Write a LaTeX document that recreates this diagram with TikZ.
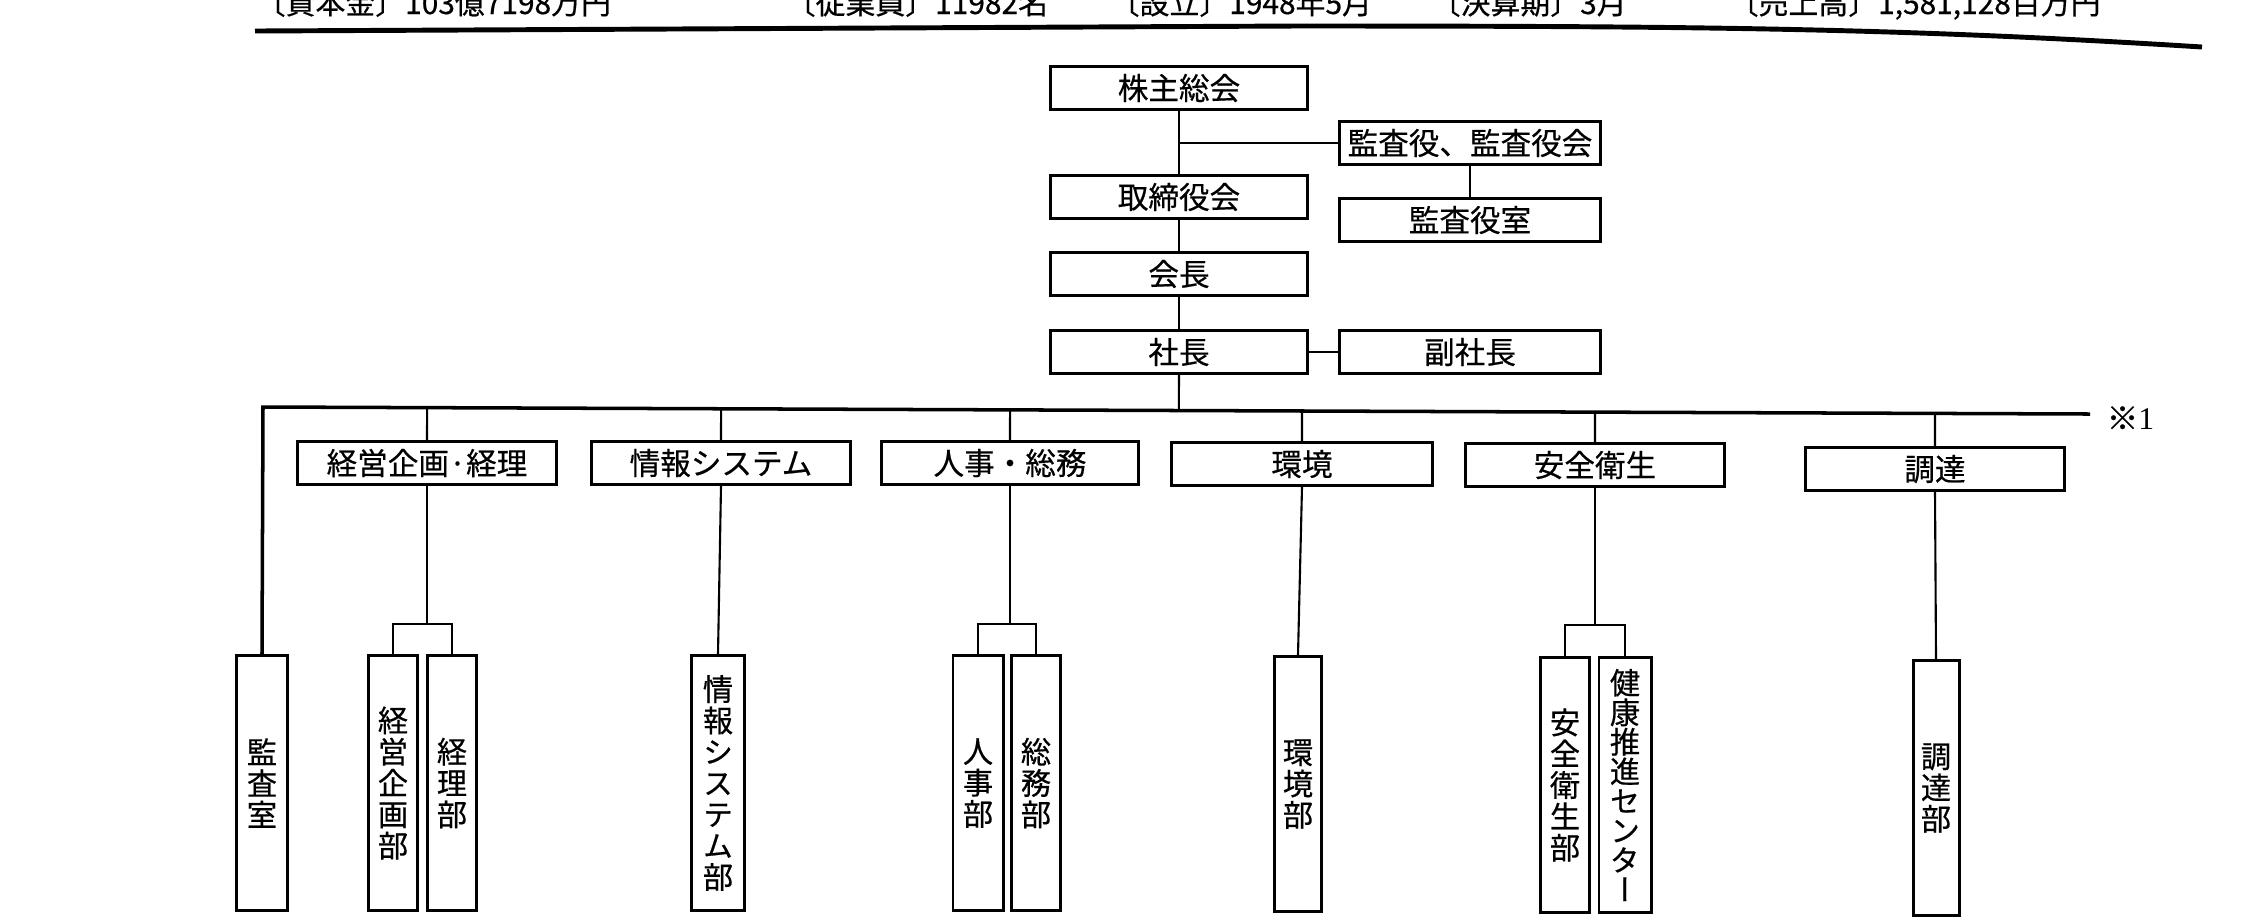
\documentclass[tikz,border=0pt]{standalone}
\usepackage{fontspec}
\setmainfont{Liberation Serif}
\newfontfamily\jp[FakeBold=0.5]{Noto Sans CJK JP}
\newfontfamily\vjp[RawFeature=+vert,FakeBold=0.5]{Noto Sans CJK JP}
\usetikzlibrary{calc}
\tikzset{
  hbox/.style={draw, line width=0.85pt, inner sep=0pt, minimum height=0.43cm,
    minimum width=2.57cm, font=\jp\fontsize{8.7pt}{9pt}\selectfont},
  vbox/.style={draw, line width=0.85pt, inner sep=0pt, minimum width=0.5cm,
    minimum height=2.55cm, align=center, font=\vjp\fontsize{8.6pt}{8.9pt}\selectfont},
  link/.style={line width=0.6pt},
  busline/.style={line width=1pt},
  rule/.style={line width=1.4pt},
  header/.style={inner sep=0pt, anchor=base west, font=\jp\fontsize{8.5pt}{9pt}\selectfont},
}
\begin{document}
\begin{tikzpicture}[x=0.01cm,y=-0.01cm]
\useasboundingbox (0,0) rectangle (2257,920);
\clip (0,0) rectangle (2257,920);

% company data line and rule
\node[header] (cap) at (255,14) {〔資本金〕103億7198万円};
\node[header] (emp) at (785,14) {〔従業員〕11982名};
\node[header] (est) at (1109,14) {〔設立〕1948年5月};
\node[header] (fy)  at (1430,14) {〔決算期〕3月};
\node[header] (rev) at (1728,14) {〔売上高〕1,581,128百万円};
\coordinate (r0) at (255,31);
\coordinate (r1) at (1296,26);
\coordinate (r2) at (2202,47);
\draw[rule] (r0) -- (r1) .. controls (1700,26) and (1900,28) .. (r2);

% top management
\node[hbox] (kabu)  at (1179,88)  {株主総会};
\node[hbox, minimum width=2.61cm] (kansa) at (1470,143) {監査役、監査役会};
\node[hbox] (tori)  at (1179,197) {取締役会};
\node[hbox, minimum width=2.61cm] (kstaff) at (1470,220) {監査役室};
\node[hbox] (kaicho) at (1179,274) {会長};
\node[hbox] (shacho) at (1179,352) {社長};
\node[hbox, minimum width=2.61cm] (fuku) at (1470,352) {副社長};

\coordinate (j1) at (1179,143);
\draw[link] (kabu.south) -- (tori.north);
\draw[link] (j1) -- (kansa.west);
\draw[link] (kansa.south) -- (kstaff.north);
\draw[link] (tori.south) -- (kaicho.north);
\draw[link] (kaicho.south) -- (shacho.north);
\draw[link] (shacho.east) -- (fuku.west);

% divisions
\node[hbox, minimum width=2.59cm] (m1) at (427,463)  {経営企画·経理};
\node[hbox, minimum width=2.59cm] (m2) at (721,463)  {情報システム};
\node[hbox] (m3) at (1010,463) {人事・総務};
\node[hbox, minimum width=2.6cm] (m4) at (1302,464) {環境};
\node[hbox, minimum width=2.59cm] (m5) at (1595,465) {安全衛生};
\node[hbox, minimum width=2.58cm] (m6) at (1935,469) {調達};

% departments
\node[vbox] (d0) at (262,783)  {監\\査\\室};
\node[vbox, minimum width=0.49cm] (d1) at (393,783)  {経\\営\\企\\画\\部};
\node[vbox, minimum width=0.49cm] (d2) at (452,783)  {経\\理\\部};
\node[vbox, minimum width=0.52cm] (d3) at (718,783)  {情\\報\\シ\\ス\\テ\\ム\\部};
\node[vbox] (d4) at (978,783)  {人\\事\\部};
\node[vbox, minimum width=0.49cm] (d5) at (1036,783) {総\\務\\部};
\node[vbox, minimum width=0.47cm] (d6) at (1298,784) {環\\境\\部};
\node[vbox, minimum width=0.49cm] (d7) at (1565,785) {安\\全\\衛\\生\\部};
\node[vbox, minimum width=0.52cm, font=\vjp\fontsize{8.6pt}{8.4pt}\selectfont] (d8) at (1625,785) {健\\康\\推\\進\\セ\\ン\\タ\\ー};
\node[vbox, minimum width=0.46cm] (d9) at (1936,788) {調\\達\\部};

% distribution bus below the president
\coordinate (busL) at (263,407);
\coordinate (busR) at (2090,414);
\draw[busline] (d0.north) -- (busL) -- (busR);
\node[inner sep=0pt, anchor=west, font=\fontsize{9pt}{10pt}\selectfont] (note) at (2106,418) {{\jp ※}1};
\draw[link] (shacho.south) -- ($(busL)!(shacho.south)!(busR)$);
\foreach \m in {m1,m2,m3,m4,m5,m6}
  \draw[link] (\m.north) -- ($(busL)!(\m.north)!(busR)$);

% division to department links
\coordinate (f1) at (427,624);
\coordinate (f3) at (1010,624);
\coordinate (f5) at (1595,625);
\draw[link] (m1.south) -- (f1);
\draw[link] (d1.north) |- (f1) -| (d2.north);
\draw[link] (m2.south) -- (d3.north);
\draw[link] (m3.south) -- (f3);
\draw[link] (d4.north) |- (f3) -| (d5.north);
\draw[link] (m4.south) -- (d6.north);
\draw[link] (m5.south) -- (f5);
\draw[link] (d7.north) |- (f5) -| (d8.north);
\draw[link] (m6.south) -- (d9.north);
\end{tikzpicture}
\end{document}
